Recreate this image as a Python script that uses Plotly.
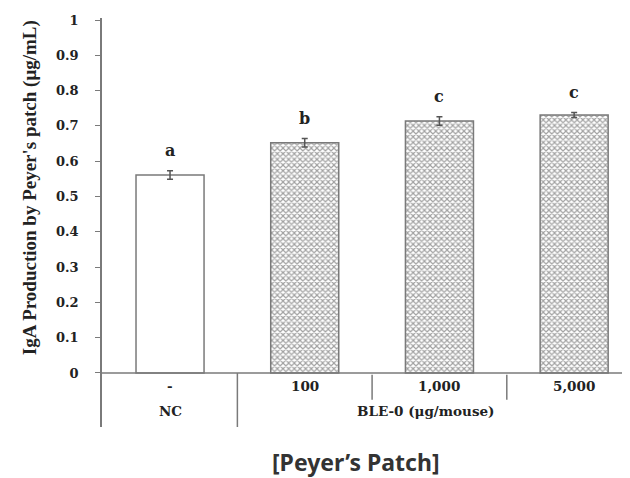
import plotly.graph_objects as go

# Data
doses = ["-", "100", "1,000", "5,000"]
groups = ["NC", "BLE-0 (μg/mouse)"]
values = [0.561, 0.652, 0.714, 0.731]
errors = [0.012, 0.012, 0.012, 0.007]
letters = ["a", "b", "c", "c"]
ytick_vals = [0, 0.1, 0.2, 0.3, 0.4, 0.5, 0.6, 0.7, 0.8, 0.9, 1.0]
ytick_text = ["0", "0.1", "0.2", "0.3", "0.4", "0.5", "0.6", "0.7", "0.8", "0.9", "1"]

LINE = "#7a7a7a"
TXT = "#222222"
SERIF = "Liberation Serif"
WIDE = "DejaVu Serif"

x = list(range(len(doses)))
fill = ["white", "white", "white", "white"]
shapes_pat = ["", "x", "x", "x"]

fig = go.Figure()
fig.add_trace(go.Bar(
    x=x, y=values, width=0.505,
    marker=dict(color=fill, line=dict(color=LINE, width=1.5),
                pattern=dict(shape=shapes_pat, fgcolor="#4a4a4a", bgcolor="white",
                             size=4, solidity=0.5)),
    error_y=dict(type="data", array=errors, visible=True, color="#555555",
                 thickness=1.5, width=3),
    showlegend=False,
))

ann = []
for i, (v, e, l) in enumerate(zip(values, errors, letters)):
    ann.append(dict(x=i, y=v + e + 0.058, text=l, showarrow=False, xref="x", yref="y",
                    font=dict(family=WIDE, size=16, color=TXT, weight="bold")))
for i, d in enumerate(doses):
    ann.append(dict(x=i, y=-0.037, text=d, showarrow=False, xref="x", yref="y",
                    font=dict(family=WIDE, size=13.5, color=TXT, weight="bold")))
ann.append(dict(x=0, y=-0.108, text=groups[0], showarrow=False, xref="x", yref="y",
                font=dict(family=WIDE, size=13.5, color=TXT, weight="bold")))
ann.append(dict(x=1.9, y=-0.108, text=groups[1], showarrow=False, xref="x", yref="y",
                font=dict(family=WIDE, size=13.5, color=TXT, weight="bold")))
ann.append(dict(x=-0.134, y=(419 - 180) / 409, xref="paper", yref="paper",
                text="IgA Production by Peyer's patch (μg/mL)", textangle=-90,
                showarrow=False, xanchor="center", yanchor="middle",
                font=dict(family=SERIF, size=19, color=TXT, weight="bold")))
ann.append(dict(x=0.474, y=(419 - 454) / 409, xref="paper", yref="paper",
                text="[Peyer’s Patch]", showarrow=False, xanchor="center", yanchor="middle",
                font=dict(family="Noto Sans", size=23, color="#333333", weight="bold")))

shapes = [
    dict(type="line", xref="paper", yref="y", x0=0, x1=1, y0=0, y1=0,
         line=dict(color=LINE, width=1.5)),
    dict(type="line", xref="x", yref="y", x0=0.5, x1=0.5, y0=0, y1=-0.153,
         line=dict(color=LINE, width=1.5)),
    dict(type="line", xref="x", yref="y", x0=1.5, x1=1.5, y0=-0.005, y1=-0.076,
         line=dict(color=LINE, width=1.5)),
    dict(type="line", xref="x", yref="y", x0=2.5, x1=2.5, y0=-0.005, y1=-0.076,
         line=dict(color=LINE, width=1.5)),
]

fig.update_layout(
    width=630, height=478,
    margin=dict(l=94, r=0, t=10, b=59),
    paper_bgcolor="white", plot_bgcolor="white",
    annotations=ann, shapes=shapes,
    xaxis=dict(range=[-0.505, 3.474], showticklabels=False, showgrid=False,
               zeroline=False, showline=False, ticks=""),
    yaxis=dict(range=[-0.153, 1.0057], tickvals=ytick_vals, ticktext=ytick_text,
               showgrid=False, zeroline=False, showline=True, linecolor=LINE,
               linewidth=1.5, ticks="outside", ticklen=5, tickcolor=LINE,
               tickwidth=1.2, ticklabelstandoff=14,
               tickfont=dict(family=WIDE, size=13, color=TXT, weight="bold")),
    bargap=0.5,
)

fig.write_html("out.html")
